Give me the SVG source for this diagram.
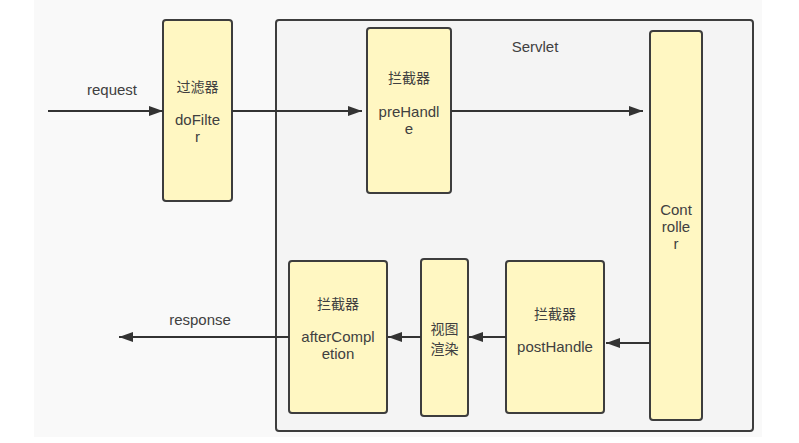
<svg xmlns="http://www.w3.org/2000/svg" width="799" height="443" viewBox="0 0 799 443">
<defs>
<style>
.bg{fill:#f9f9f9}
.box{fill:#fff7c2;stroke:#3d3d3d;stroke-width:2}
.cont{fill:#f4f4f4;stroke:#3d3d3d;stroke-width:2}
.t{font-family:"Liberation Sans","Noto Sans CJK SC",sans-serif;font-size:15px;fill:#404040;text-anchor:middle}
.c{font-family:"Noto Sans CJK SC",sans-serif;font-size:14px;fill:#404040;text-anchor:middle}
.ln{stroke:#333;stroke-width:2;fill:none}
</style>
<marker id="ah" viewBox="0 0 14 10" refX="14" refY="5" markerWidth="14" markerHeight="10" markerUnits="userSpaceOnUse" orient="auto">
<path d="M0,0 L14,5 L0,10 z" fill="#333"/>
</marker>
</defs>
<rect class="bg" x="34" y="0" width="728" height="437"/>
<g id="servlet">
<rect class="cont" x="276" y="20" width="477" height="411" rx="3"/>
<text class="t" x="535" y="52">Servlet</text>
</g>
<g id="filter">
<rect class="box" x="163" y="20" width="69" height="181" rx="3"/>
<text class="c" x="197.5" y="92">过滤器</text>
<text class="t" x="197.5" y="125">doFilte</text>
<text class="t" x="197.5" y="142">r</text>
</g>
<g id="prehandle">
<rect class="box" x="367" y="28" width="84" height="165" rx="3"/>
<text class="c" x="409" y="83">拦截器</text>
<text class="t" x="409" y="117">preHandl</text>
<text class="t" x="409" y="134">e</text>
</g>
<g id="controller">
<rect class="box" x="650" y="31" width="52" height="389" rx="3"/>
<text class="t" x="676" y="215">Cont</text>
<text class="t" x="676" y="232">rolle</text>
<text class="t" x="676" y="249">r</text>
</g>
<g id="posthandle">
<rect class="box" x="506" y="261" width="98" height="152" rx="3"/>
<text class="c" x="555" y="319">拦截器</text>
<text class="t" x="555" y="352">postHandle</text>
</g>
<g id="render">
<rect class="box" x="421" y="259" width="47" height="157" rx="3"/>
<text class="c" x="444.5" y="334">视图</text>
<text class="c" x="444.5" y="354">渲染</text>
</g>
<g id="aftercompletion">
<rect class="box" x="289" y="261" width="98" height="152" rx="3"/>
<text class="c" x="338" y="309">拦截器</text>
<text class="t" x="338" y="342">afterCompl</text>
<text class="t" x="338" y="359">etion</text>
</g>
<g id="connectors">
<line class="ln" x1="48" y1="111" x2="163" y2="111" marker-end="url(#ah)"/>
<line class="ln" x1="232" y1="111" x2="362" y2="111" marker-end="url(#ah)"/>
<line class="ln" x1="451" y1="111" x2="643" y2="111" marker-end="url(#ah)"/>
<line class="ln" x1="650" y1="343" x2="606" y2="343" marker-end="url(#ah)"/>
<line class="ln" x1="506" y1="337" x2="469" y2="337" marker-end="url(#ah)"/>
<line class="ln" x1="421" y1="337" x2="388" y2="337" marker-end="url(#ah)"/>
<line class="ln" x1="289" y1="337" x2="119" y2="337" marker-end="url(#ah)"/>
<text class="t" x="112" y="95">request</text>
<text class="t" x="200" y="325">response</text>
</g>
</svg>
